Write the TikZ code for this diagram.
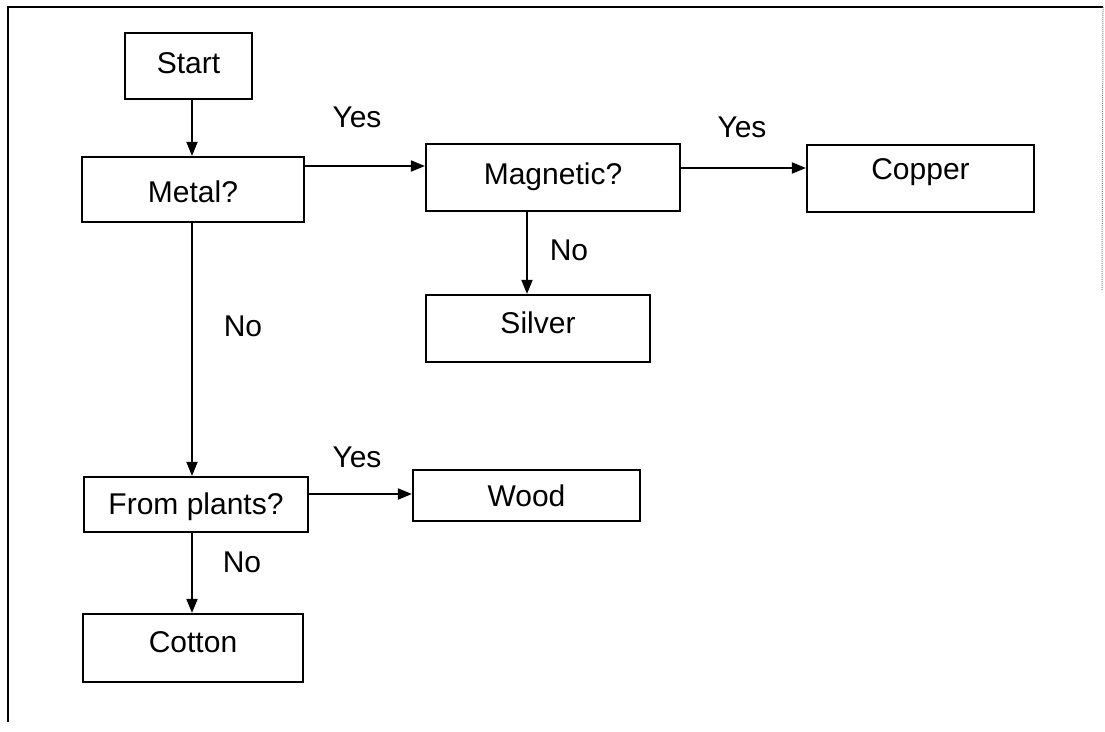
\documentclass[tikz,border=0pt]{standalone}
\usepackage{fontspec}
\setmainfont{Liberation Sans}
\usetikzlibrary{arrows.meta}
\begin{document}
\begin{tikzpicture}[x=1pt,y=-1pt,
  box/.style={draw=black, line width=2.2pt, rectangle, inner sep=0pt,
    font=\fontsize{30}{34}\selectfont, text height=21pt, text depth=7pt},
  lbl/.style={font=\fontsize{30}{34}\selectfont, inner sep=0pt},
  arr/.style={line width=1.9pt, -{Triangle[length=14pt,width=11pt]}},
  frame/.style={line width=1.8pt}]
\useasboundingbox (0,0) rectangle (1105,731);
% frame
\coordinate (ftl) at (8,7);
\coordinate (ftr) at (1103,7);
\coordinate (fbl) at (8,722);
\coordinate (frb) at (1102,290);
\draw[frame] (fbl) -- (ftl) -- (ftr);
\draw[line width=1pt, gray, densely dotted] (ftr) -- (frb);
% boxes
\node[box, minimum width=127pt, minimum height=66pt] (start) at (188.5,66) {Start};
\node[box, minimum width=222pt, minimum height=65pt] (metal) at (193,189.5) {\raisebox{-6pt}{Metal?}};
\node[box, minimum width=254pt, minimum height=67pt] (magnetic) at (553,177.5) {Magnetic?};
\node[box, minimum width=227pt, minimum height=67pt] (copper) at (920.5,178.5) {\raisebox{6pt}{Copper}};
\node[box, minimum width=224pt, minimum height=67pt] (silver) at (538,328.5) {\raisebox{2pt}{Silver}};
\node[box, minimum width=224pt, minimum height=55pt] (plants) at (196,504.5) {\raisebox{-3pt}{From plants?}};
\node[box, minimum width=227pt, minimum height=51pt] (wood) at (526.5,495.5) {\raisebox{-4pt}{Wood}};
\node[box, minimum width=220pt, minimum height=68pt] (cotton) at (193,648) {\raisebox{3pt}{Cotton}};
% guide coordinates
\coordinate (cA) at (192,0);
\coordinate (cB) at (527,0);
\coordinate (rA) at (0,166);
\coordinate (rB) at (0,168);
\coordinate (rC) at (0,494);
% connectors
\draw[arr] (start.south -| cA) -- (metal.north -| cA);
\draw[arr] (metal.east |- rA) -- (magnetic.west |- rA);
\draw[arr] (magnetic.east |- rB) -- (copper.west |- rB);
\draw[arr] (magnetic.south -| cB) -- (silver.north -| cB);
\draw[arr] (metal.south -| cA) -- (plants.north -| cA);
\draw[arr] (plants.east |- rC) -- (wood.west |- rC);
\draw[arr] (plants.south -| cA) -- (cotton.north -| cA);
% labels
\node[lbl] (y1) at (357,117) {Yes};
\node[lbl] (y2) at (742,127) {Yes};
\node[lbl] (n1) at (569,250) {No};
\node[lbl] (n2) at (243,326) {No};
\node[lbl] (y3) at (357,457) {Yes};
\node[lbl] (n3) at (242,562) {No};
\end{tikzpicture}
\end{document}
